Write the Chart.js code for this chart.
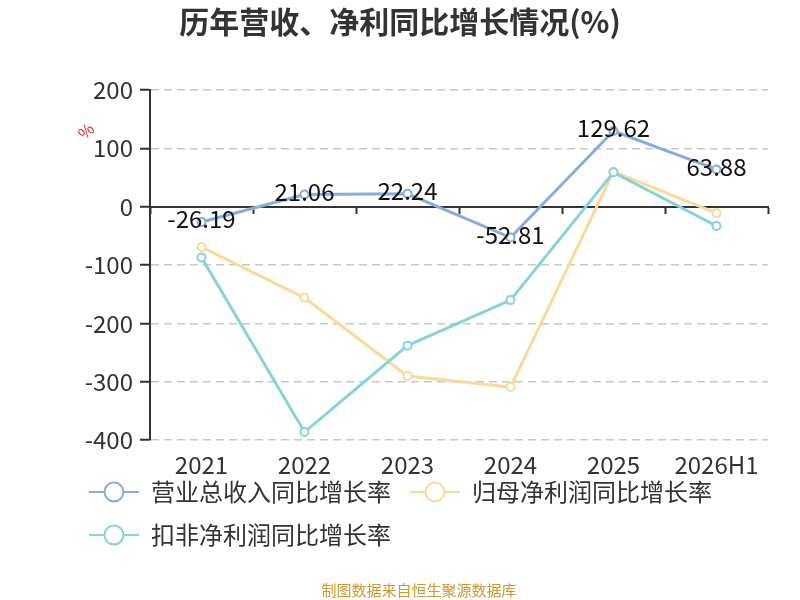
<!DOCTYPE html>
<html>
<head>
<meta charset="utf-8">
<title>历年营收、净利同比增长情况(%)</title>
<script src="https://cdn.jsdelivr.net/npm/chart.js@4.4.1/dist/chart.umd.min.js"></script>
<style>
  html, body { margin: 0; padding: 0; background: #fff; }
  #wrap { width: 800px; height: 600px; }
</style>
</head>
<body>
<div id="wrap"><canvas id="growthChart" width="800" height="600"></canvas></div>
<script>
// Chart data
const categories = ['2021', '2022', '2023', '2024', '2025', '2026H1'];
const revenueGrowth = [-26.19, 21.06, 22.24, -52.81, 129.62, 63.88];
const netProfitGrowth = [-69, -156, -290, -309, 60, -11];
const deductedProfitGrowth = [-87, -386, -238, -160, 59, -33];
const seriesNames = ['营业总收入同比增长率', '归母净利润同比增长率', '扣非净利润同比增长率'];
const seriesColors = ['#8eaadb', '#fdd89b', '#86d4d6'];
const yMin = -400;
const yMax = 200;
const yStep = 100;

Chart.defaults.font.family = '"Noto Sans CJK SC", "Noto Sans", sans-serif';

// Legend icon: short line with a hollow circle in the middle
function makeLegendIcon(color) {
    const c = document.createElement('canvas');
    c.width = 50;
    c.height = 24;
    const g = c.getContext('2d');
    g.strokeStyle = color;
    g.lineWidth = 2;
    g.beginPath();
    g.moveTo(0, 12);
    g.lineTo(50, 12);
    g.stroke();
    g.beginPath();
    g.arc(25, 12, 9.5, 0, Math.PI * 2);
    g.fillStyle = '#fff';
    g.fill();
    g.stroke();
    return c;
}
const legendIcons = seriesColors.map(makeLegendIcon);

// Value labels on the revenue series
const valueLabels = {
    id: 'valueLabels',
    afterDatasetsDraw(chart) {
        const ctx = chart.ctx;
        const meta = chart.getDatasetMeta(0);
        ctx.save();
        ctx.font = '24px "Noto Sans CJK SC", sans-serif';
        ctx.fillStyle = '#111';
        ctx.textAlign = 'center';
        ctx.textBaseline = 'middle';
        meta.data.forEach(function(pt, i) {
            ctx.fillText(revenueGrowth[i].toFixed(2), pt.x, pt.y - 3);
        });
        ctx.restore();
    }
};

// Rotated "%" unit next to the y axis
const unitLabel = {
    id: 'unitLabel',
    afterDraw(chart) {
        const ctx = chart.ctx;
        const area = chart.chartArea;
        ctx.save();
        ctx.translate(area.left - 64, area.top + 41);
        ctx.rotate(-Math.PI / 4);
        ctx.font = '16px "Noto Sans CJK SC", sans-serif';
        ctx.fillStyle = '#e8141a';
        ctx.textAlign = 'center';
        ctx.textBaseline = 'middle';
        ctx.fillText('%', 0, 0);
        ctx.restore();
    }
};

// Center the title on the whole canvas and pull the legend up under the x labels
const layoutTweaks = {
    id: 'layoutTweaks',
    afterLayout(chart) {
        if (chart.titleBlock) {
            chart.titleBlock.left = 0;
            chart.titleBlock.right = chart.width;
        }
        if (chart.legend) {
            chart.legend.top -= 28;
            chart.legend.bottom -= 28;
        }
    }
};

const ctx = document.getElementById('growthChart').getContext('2d');
new Chart(ctx, {
    type: 'line',
    data: {
        labels: categories,
        datasets: [revenueGrowth, netProfitGrowth, deductedProfitGrowth].map(function(values, i) {
            return {
                label: seriesNames[i],
                data: values,
                borderColor: seriesColors[i],
                backgroundColor: seriesColors[i],
                borderWidth: 3,
                pointRadius: 4,
                pointBorderWidth: 2,
                pointBackgroundColor: '#fff',
                pointBorderColor: seriesColors[i],
                tension: 0,
                order: [0, 2, 1][i]
            };
        })
    },
    options: {
        responsive: false,
        animation: false,
        layout: { padding: { left: 70, right: 32, top: 0, bottom: 0 } },
        scales: {
            x: {
                type: 'category',
                offset: true,
                grid: { display: false, drawTicks: false },
                border: { display: false },
                ticks: { color: '#333', font: { size: 24 }, padding: 10, maxRotation: 0, autoSkip: false }
            },
            xZero: {
                type: 'category',
                axis: 'x',
                labels: categories,
                offset: true,
                position: { y: 0 },
                grid: {
                    drawOnChartArea: false,
                    offset: true,
                    drawTicks: true,
                    tickLength: 6,
                    tickColor: '#333',
                    tickWidth: 2
                },
                border: { display: true, color: '#333', width: 2 },
                ticks: { display: false }
            },
            y: {
                min: yMin,
                max: yMax,
                afterFit: function(scale) { scale.width = 80; },
                ticks: { stepSize: yStep, color: '#333', font: { size: 24 }, padding: 7 },
                grid: {
                    color: function(c) { return c.tick && c.tick.value === 0 ? 'rgba(0,0,0,0)' : '#c8c8c8'; },
                    lineWidth: 1.5,
                    tickColor: '#333',
                    tickLength: 10,
                    tickWidth: 2,
                    tickBorderDash: []
                },
                border: { display: true, color: '#333', width: 2, dash: [8, 5] }
            }
        },
        plugins: {
            title: {
                display: true,
                text: '历年营收、净利同比增长情况(%)',
                color: '#333',
                font: { size: 30, weight: 'bold' },
                padding: { top: 4, bottom: 50 }
            },
            subtitle: {
                display: true,
                position: 'bottom',
                text: '制图数据来自恒生聚源数据库',
                color: '#cc9a2e',
                font: { size: 15 },
                padding: { top: -4, bottom: 1 }
            },
            legend: {
                position: 'bottom',
                align: 'start',
                labels: {
                    color: '#333',
                    font: { size: 24 },
                    padding: 19,
                    usePointStyle: true,
                    pointStyleWidth: 50,
                    generateLabels: function(chart) {
                        const items = Chart.defaults.plugins.legend.labels.generateLabels(chart);
                        items.forEach(function(it) { it.pointStyle = legendIcons[it.datasetIndex]; });
                        return items.sort(function(a, b) { return a.datasetIndex - b.datasetIndex; });
                    }
                }
            },
            tooltip: { enabled: false }
        }
    },
    plugins: [valueLabels, unitLabel, layoutTweaks]
});
</script>
</body>
</html>
